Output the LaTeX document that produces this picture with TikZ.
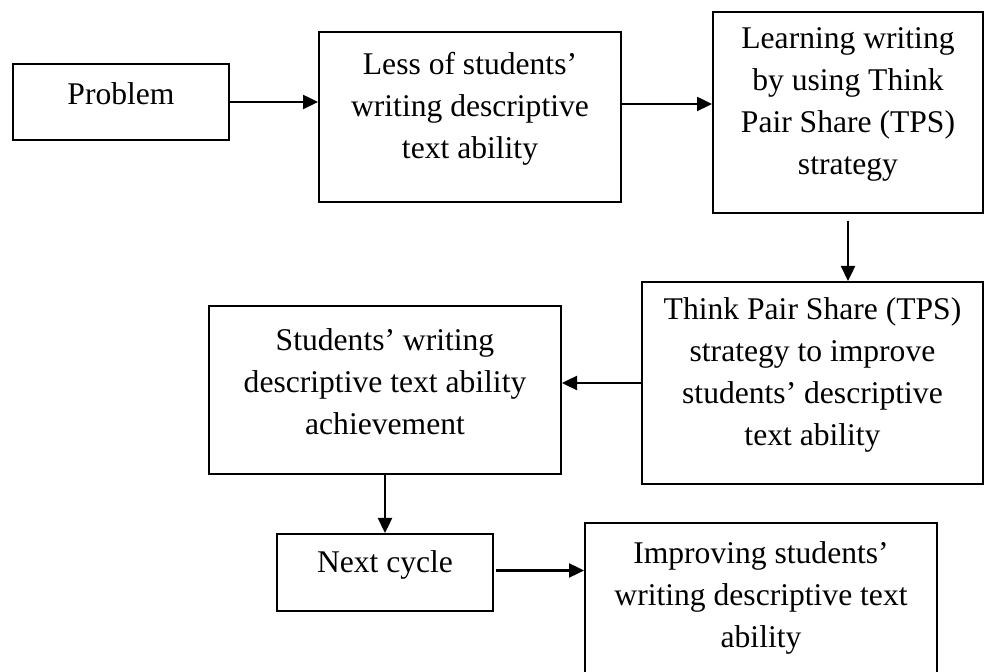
\documentclass[tikz,border=0pt]{standalone}
\usepackage{fontspec}
\setmainfont{Liberation Serif}
\usetikzlibrary{arrows.meta}

\tikzset{
  stage/.style={draw, line width=1pt, rectangle, inner sep=0pt},
  stagetext/.style={align=center, font=\fontsize{15.8}{21}\selectfont, yshift=4pt},
  flow/.style={line width=1.2pt, -{Triangle[length=7.5pt,width=7pt]}}
}

\begin{document}
\begin{tikzpicture}[x=0.5pt,y=-0.5pt]
    \useasboundingbox (0,0) rectangle (985,672);
    \clip (0,0) rectangle (985,672);
    % top row
    \node[stage, minimum width=108pt, minimum height=38pt,
        label={[stagetext]center:Problem}] (problem) at (121,102) {};
    \node[stage, minimum width=151pt, minimum height=85pt,
        label={[stagetext]center:{Less of students'\\writing descriptive\\text ability}}] (less) at (470,117) {};
    \node[stage, minimum width=135pt, minimum height=100.5pt,
        label={[stagetext]center:{Learning writing\\by using Think\\Pair Share (TPS)\\strategy}}] (learning) at (848,112.5) {};
    % middle row
    \node[stage, minimum width=170.5pt, minimum height=101pt,
        label={[stagetext]center:{Think Pair Share (TPS)\\strategy to improve\\students' descriptive\\text ability}}] (tps) at (812.5,383) {};
    \node[stage, minimum width=176pt, minimum height=84pt,
        label={[stagetext]center:{Students' writing\\descriptive text ability\\achievement}}] (achieve) at (385,390) {};
    % bottom row
    \node[stage, minimum width=108pt, minimum height=38.5pt,
        label={[stagetext]center:Next cycle}] (next) at (385,572.5) {};
    \node[stage, minimum width=176pt, minimum height=83pt,
        label={[stagetext]center:{Improving students'\\writing descriptive text\\ability}}] (improve) at (761,606) {};
    % arrows
    \draw[flow] (problem.east) -- (problem.east -| less.west);
    \draw[flow] ([yshift=6.5pt]less.east) -- ([yshift=6.5pt]less.east -| learning.west);
    \draw[flow, shorten <=3.5pt] (learning.south) -- (learning.south |- tps.north);
    \draw[flow] (tps.west) -- (tps.west -| achieve.east);
    \draw[flow] (achieve.south) -- (next.north);
    \draw[flow, shorten <=1pt] ([yshift=1pt]next.east) -- ([yshift=1pt]next.east -| improve.west);
\end{tikzpicture}
\end{document}
